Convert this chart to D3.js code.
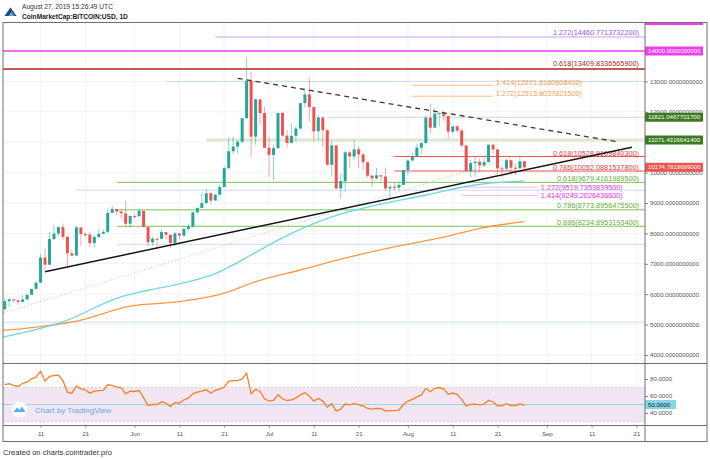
<!DOCTYPE html>
<html>
<head>
<meta charset="utf-8">
<script src="https://cdn.jsdelivr.net/npm/d3@7"></script>
<style>
  body { margin: 0; background: #fff; }
  svg text { font-family: "Liberation Sans", Arial, sans-serif; }
</style>
</head>
<body>
<div id="chart"></div>
<script>
// daily candles, first one on 2019-05-03
const firstDay = "2019-05-03";
const opens = [5505,5769,5831,5795,5747,5829,5982,6175,6379,7204,6972,7815,7995,8206,7885,7343,7271,8197,7978,7963,7680,7881,7987,8052,8674,8805,8719,8659,8319,8574,
  8564,8742,8209,7707,7824,7822,8043,7954,7688,8000,7927,8145,8230,8693,8838,8994,9320,9081,9273,9527,10145,10702,10856,11011,11790,13017,11183,12407,11960,10818,
  10583,10801,11961,11215,10978,11208,11450,12285,12573,12157,11358,11815,11393,10256,10895,9478,9720,10666,10530,10767,10599,10343,9900,9811,9911,9871,9478,9532,9507,9595,
  10085,10399,10518,10821,10970,11805,11479,11942,11966,11863,11346,11523,11383,10895,10052,10312,10360,10236,10345,10917,10764,10138,10131,10408,10160,10139,10371];
const highs = [5865,5886,5833,5811,5981,6013,6183,6434,7333,7503,8047,8268,8216,8320,7929,7446,8262,8197,8032,8034,7944,8140,8133,8810,8908,8807,8755,9074,8587,8625,
  8802,8743,8210,7901,7871,8127,8045,7955,8031,8006,8223,8311,8710,8859,9335,9474,9344,9299,9594,10210,11157,11184,11065,11790,13797,13311,12445,12408,12178,11158,
  10912,11968,12006,11392,11620,11541,12311,12707,13130,12158,11906,11842,11452,11053,10898,9963,10736,10716,11079,10849,10655,10343,9916,10154,9916,10167,9591,9680,9715,10085,
  10446,10657,10946,11009,11895,12273,12098,11979,12024,11871,11523,11528,11429,10896,10420,10525,10455,10487,10924,10947,10765,10222,10443,10408,10304,10512,10382];
const lows = [5490,5581,5734,5645,5747,5800,5982,6135,6379,6793,6953,7778,7900,7776,6915,7251,7268,7591,7862,7559,7533,7829,7981,8003,8668,8587,8469,8233,8172,8481,
  8549,8204,7564,7590,7469,7791,7793,7523,7583,7803,7894,8089,8183,8631,8838,8994,8962,9078,9232,9527,10107,10608,10620,10999,11755,10491,10914,11584,10800,9861,
  9736,10793,11176,10826,10979,11013,11401,12141,11666,11025,11069,10830,10233,9868,9448,9164,9376,10154,10415,10141,10072,9825,9529,9773,9717,9411,9113,9411,9428,9598,
  9922,10371,10503,10620,10960,11290,11479,11523,11686,11118,11283,11320,10822,10027,9855,9860,10005,10215,10341,10618,9945,9831,10086,9938,9931,10139,10128];
const closes = [5769,5831,5795,5747,5829,5982,6175,6379,7204,6972,7815,7995,8206,7885,7343,7271,8197,7978,7963,7680,7881,7987,8052,8674,8805,8719,8659,8319,8574,8564,
  8742,8209,7707,7824,7822,8043,7954,7688,8000,7927,8145,8230,8693,8838,8994,9320,9081,9273,9527,10145,10702,10856,11011,11790,13017,11183,12407,11960,10818,10583,
  10801,11961,11215,10978,11208,11450,12285,12573,12157,11358,11815,11393,10256,10895,9478,9720,10666,10530,10767,10599,10343,9900,9811,9911,9871,9478,9532,9507,9595,10085,
  10399,10518,10821,10970,11805,11479,11942,11966,11863,11346,11523,11383,10895,10052,10312,10360,10236,10345,10917,10764,10138,10131,10408,10160,10139,10371,10175];
const rsiValues = [73.5,74.4,72.5,71.2,75,76.2,80.2,82.1,89.2,77.4,83,84,84.5,78,64.5,63.3,71.5,68.5,67.3,63.3,65.8,66.3,66.5,73.2,72.4,70.4,69.5,62.6,65.6,65.3,
  66.5,58,48.8,50,50,53.2,51.5,47.6,52.4,51.5,55.5,57.5,62.6,64.5,65.8,67.3,63.3,66.5,68,70.4,77.4,78,78.2,80,86.8,62.6,68,65.6,56.7,53.9,
  54.7,61.4,56.7,54.7,55.5,57.5,61.4,64,60,54,57,54,47,51,42.5,44.5,50.5,49.5,51,49.8,48.2,45.3,44.6,45.5,45.2,42.4,42.9,42.7,43.5,50,
  54,56,59,61,69,65,69,70,68.5,62,63.5,62,56,48,50,50.5,49.5,50.5,55,53,48.5,48.3,51,48.8,48.6,50.6,49];

// moving averages
const maFastDates = ["2019-05-02","2019-05-17","2019-05-28","2019-06-04","2019-06-11","2019-06-19","2019-06-27","2019-07-03","2019-07-15","2019-07-26","2019-08-04","2019-08-16","2019-08-27"];
const maFastValues = [4570,5150,5865,6130,6340,6680,7290,7780,8540,8967,9230,9592,9730];
const maSlowDates = ["2019-05-02","2019-05-20","2019-05-31","2019-06-11","2019-06-22","2019-06-27","2019-07-08","2019-07-19","2019-07-30","2019-08-10","2019-08-17","2019-08-27"];
const maSlowValues = [4800,5150,5610,5755,6080,6360,6796,7224,7586,7914,8168,8385];

// drawn trend lines
const supportDates = ["2019-05-12","2019-09-20"];
const supportValues = [6740,10832];
const resistDates = ["2019-06-24","2019-09-17"];
const resistValues = [13102,11007];
const dottedDates = ["2019-05-02","2019-08-30"];
const dottedValues = [5350,10760];

// horizontal levels
const levelValues = [14460.77137322,14000,13409.83365659,13000,12871.81608084,12513.80378215,11821.04677017,11071.43166414,10528.91098403,10052.08815378,
  9679.41619895,9519.73538395,9420,9249.20264366,8773.89564755,8234.89531934,7641,5080];
const levelLabels = ["1.272(14460.7713732200)","","0.618(13409.8336565900)","","1.414(12871.8160808400)","1.272(12513.8037821500)","","",
  "0.618(10528.9109840300)","0.786(10052.0881537800)","0.618(9679.4161989500)","1.272(9519.7353839500)","","1.414(9249.2026436600)",
  "0.786(8773.8956475500)","0.886(8234.8953193400)","",""];
const levelStart = ["2019-06-19",null,null,"2019-06-08","2019-08-02","2019-08-02","2019-07-14","2019-06-17","2019-07-29","2019-07-29",
  "2019-05-28","2019-08-13","2019-05-19","2019-08-13","2019-05-28","2019-05-28","2019-05-28",null];
const levelEnd = [null,null,null,null,"2019-08-20","2019-08-20",null,null,null,null,null,"2019-08-30",null,"2019-08-30",null,null,null,null];
const levelKind = ["violet","magenta","darkred","blue","orange","orange","lightgreen","lightgreenwide","red","red",
  "green","pink","blue","pink","green","green","blue","blue"];

const priceTicks = [4000,5000,6000,7000,8000,9000,10000,12000,13000];
const priceBoxes = [15000,14000,11821.0467701700,11071.4316641400,10174.7819699000];
const priceBoxText = ["","14000.0000000000","11821.0467701700","11071.4316641400","10174.7819699000"];
const priceBoxKind = ["magenta","magenta","darkgreen","darkgreen","red"];
const rsiTicks = [40,60,80];
const timeTicks = ["2019-05-11","2019-05-21","2019-06-01","2019-06-11","2019-06-21","2019-07-01","2019-07-11","2019-07-21","2019-08-01","2019-08-11","2019-08-21","2019-09-01","2019-09-11","2019-09-21"];
const timeLabels = ["11","21","Jun","11","21","Jul","11","21","Aug","11","21","Sep","11","21"];

// styles
const kindStyle = {
  violet: {stroke: "#c9a3f3", width: 1, text: "#9d55ec", anchor: "end", dy: -1.5},
  magenta: {stroke: "#f03cf0", width: 1.6},
  darkred: {stroke: "#b3261e", width: 1.6, text: "#a82a22", anchor: "end", dy: -2.5},
  blue: {stroke: "#c9dcf6", width: 1},
  orange: {stroke: "#f9bd85", width: 1, text: "#f5a04a", anchor: "start", dy: 0},
  lightgreen: {stroke: "#c9ddbf", width: 1},
  lightgreenwide: {stroke: "#dbe9d4", width: 3},
  red: {stroke: "#ef5350", width: 1, text: "#e0423f", anchor: "end", dy: -1},
  green: {stroke: "#7fc250", width: 1, text: "#6aac3f", anchor: "end", dy: -1.5},
  pink: {stroke: "#f6b8ee", width: 1, text: "#ee1fee", anchor: "start", dy: 2.5}
};
const boxFill = {magenta: "#f23cf2", darkgreen: "#3b7a20", red: "#ef5350"};
const upColor = "#26a69a", downColor = "#ef5350";

const W = 710, H = 459;
const L = 3, R = 645, PT = 22.5, PB = 363.5, RB = 425.5, AB = 441.5, OR = 707;
const parse = d3.utcParse("%Y-%m-%d");

const candles = closes.map((c, i) => ({
  date: d3.utcDay.offset(parse(firstDay), i),
  o: opens[i], h: highs[i], l: lows[i], c: c, rsi: rsiValues[i]
}));

const svg = d3.select("#chart").append("svg")
  .attr("width", W).attr("height", H)
  .style("display", "block");
svg.append("rect").attr("width", W).attr("height", H).attr("fill", "#fff");

const x = d3.scaleUtc()
  .domain([parse("2019-05-03"), parse("2019-08-27")])
  .range([4.7, 524.4]);
const y = d3.scaleLinear().domain([4000, 14000]).range([355, 51]);
const yr = d3.scaleLinear().domain([40, 80]).range([413, 379]);

const defs = svg.append("defs");
defs.append("clipPath").attr("id", "clipPrice").append("rect")
  .attr("x", L).attr("y", PT).attr("width", R - L).attr("height", PB - PT);
defs.append("clipPath").attr("id", "clipRsi").append("rect")
  .attr("x", L).attr("y", PB).attr("width", R - L).attr("height", RB - PB);
defs.append("clipPath").attr("id", "clipAxis").append("rect")
  .attr("x", R).attr("y", PT).attr("width", OR - R).attr("height", PB - PT);

// grid
const grid = svg.append("g");
grid.selectAll(".vg").data(timeTicks).enter().append("line")
  .attr("x1", d => x(parse(d))).attr("x2", d => x(parse(d)))
  .attr("y1", PT).attr("y2", RB)
  .attr("stroke", "#f1f3f7").attr("stroke-width", 1);
grid.selectAll(".hg").data([4000,5000,6000,7000,8000,9000,10000,11000,12000,13000,14000]).enter().append("line")
  .attr("x1", L).attr("x2", R).attr("y1", d => y(d)).attr("y2", d => y(d))
  .attr("stroke", "#f1f3f7").attr("stroke-width", 1);

// price pane
const price = svg.append("g").attr("clip-path", "url(#clipPrice)");

levelValues.forEach((v, i) => {
  const st = kindStyle[levelKind[i]];
  const x1 = levelStart[i] ? x(parse(levelStart[i])) : L;
  const x2 = levelEnd[i] ? x(parse(levelEnd[i])) : R;
  price.append("line")
    .attr("x1", x1).attr("x2", x2).attr("y1", y(v)).attr("y2", y(v))
    .attr("stroke", st.stroke).attr("stroke-width", st.width);
  if (levelLabels[i]) {
    price.append("text")
      .attr("x", st.anchor === "end" ? 639 : x2 + 3)
      .attr("y", y(v) + st.dy)
      .attr("text-anchor", st.anchor)
      .attr("font-size", 7.3)
      .attr("fill", st.text)
      .text(levelLabels[i]);
  }
});

const lineGen = d3.line().x(d => x(d.date)).y(d => y(d.value)).curve(d3.curveMonotoneX);
const toPts = (dates, values) => dates.map((d, i) => ({date: parse(d), value: values[i]}));

price.append("path").datum(toPts(dottedDates, dottedValues))
  .attr("d", d3.line().x(d => x(d.date)).y(d => y(d.value)))
  .attr("fill", "none").attr("stroke", "#c4c4c4").attr("stroke-width", 0.8)
  .attr("stroke-dasharray", "1.5,2");

price.append("path").datum(toPts(maSlowDates, maSlowValues))
  .attr("d", lineGen).attr("fill", "none")
  .attr("stroke", "#fb9843").attr("stroke-width", 1.3);
price.append("path").datum(toPts(maFastDates, maFastValues))
  .attr("d", lineGen).attr("fill", "none")
  .attr("stroke", "#6fd6e6").attr("stroke-width", 1.3);

// candles
const bw = 3;
const cg = price.append("g");
cg.selectAll(".wick").data(candles).enter().append("line")
  .attr("x1", d => x(d.date)).attr("x2", d => x(d.date))
  .attr("y1", d => y(d.h)).attr("y2", d => y(d.l))
  .attr("stroke", d => d.c >= d.o ? upColor : downColor)
  .attr("stroke-opacity", 0.5).attr("stroke-width", 1);
cg.selectAll(".body").data(candles).enter().append("rect")
  .attr("x", d => x(d.date) - bw / 2)
  .attr("y", d => y(Math.max(d.o, d.c)))
  .attr("width", bw)
  .attr("height", d => Math.max(1, Math.abs(y(d.o) - y(d.c))))
  .attr("fill", d => d.c >= d.o ? upColor : downColor);

price.append("path").datum(toPts(supportDates, supportValues))
  .attr("d", d3.line().x(d => x(d.date)).y(d => y(d.value)))
  .attr("fill", "none").attr("stroke", "#151515").attr("stroke-width", 1.5);
price.append("path").datum(toPts(resistDates, resistValues))
  .attr("d", d3.line().x(d => x(d.date)).y(d => y(d.value)))
  .attr("fill", "none").attr("stroke", "#3a3a3a").attr("stroke-width", 1.3)
  .attr("stroke-dasharray", "5,4");

// RSI pane
const rsi = svg.append("g").attr("clip-path", "url(#clipRsi)");
rsi.append("rect").attr("x", L).attr("width", R - L)
  .attr("y", yr(70)).attr("height", yr(30) - yr(70))
  .attr("fill", "#f2e6f3");
[70, 30].forEach(v => rsi.append("line")
  .attr("x1", L).attr("x2", R).attr("y1", yr(v)).attr("y2", yr(v))
  .attr("stroke", "#c9c3cc").attr("stroke-width", 0.8).attr("stroke-dasharray", "2,2"));
rsi.append("line").attr("x1", L).attr("x2", R).attr("y1", yr(50)).attr("y2", yr(50))
  .attr("stroke", "#9fd3ea").attr("stroke-width", 1);
rsi.append("path").datum(candles)
  .attr("d", d3.line().x(d => x(d.date)).y(d => yr(d.rsi)))
  .attr("fill", "none").attr("stroke", "#f58025").attr("stroke-width", 1.3);

// TradingView badge
const badge = svg.append("g");
badge.append("circle").attr("cx", 19.5).attr("cy", 409.5).attr("r", 8)
  .attr("fill", "#fff").attr("stroke", "#e6e6e6").attr("stroke-width", 0.6);
badge.append("path")
  .attr("d", "M13.5,412 L17,407.5 L19.5,410 L22,406.5 L25.5,412 Z")
  .attr("fill", "#56aee6");
badge.append("text").attr("x", 35).attr("y", 412.5)
  .attr("font-size", 8).attr("fill", "#5caee6").text("Chart by TradingView");

// right price axis
const axisR = svg.append("g").attr("transform", `translate(${R},0)`)
  .call(d3.axisRight(y).tickValues(priceTicks).tickSize(3).tickPadding(2)
    .tickFormat(d => d.toFixed(10)));
axisR.select(".domain").remove();
axisR.selectAll(".tick line").attr("stroke", "#888");
axisR.selectAll("text").attr("font-size", 6.1).attr("fill", "#555")
  .attr("font-family", "'Liberation Sans', Arial, sans-serif");

const boxes = svg.append("g").attr("clip-path", "url(#clipAxis)");
priceBoxes.forEach((v, i) => {
  boxes.append("rect").attr("x", R).attr("y", y(v) - 4.5)
    .attr("width", 58).attr("height", 9).attr("fill", boxFill[priceBoxKind[i]]);
  boxes.append("text").attr("x", R + 3).attr("y", y(v) + 2.2)
    .attr("font-size", 6.1).attr("fill", "#fff").text(priceBoxText[i]);
});

// RSI axis
const axisRsi = svg.append("g").attr("transform", `translate(${R},0)`)
  .call(d3.axisRight(yr).tickValues(rsiTicks).tickSize(3).tickPadding(2)
    .tickFormat(d => d.toFixed(4)));
axisRsi.select(".domain").remove();
axisRsi.selectAll(".tick line").attr("stroke", "#888");
axisRsi.selectAll("text").attr("font-size", 6.1).attr("fill", "#555")
  .attr("font-family", "'Liberation Sans', Arial, sans-serif");
svg.append("rect").attr("x", R).attr("y", yr(50) - 4.5).attr("width", 31).attr("height", 9)
  .attr("fill", "#86d6e8");
svg.append("text").attr("x", R + 3).attr("y", yr(50) + 2.2)
  .attr("font-size", 6.1).attr("fill", "#1a1a1a").text("50.0000");

// time axis
const axisB = svg.append("g").attr("transform", `translate(0,${RB})`)
  .call(d3.axisBottom(x).tickValues(timeTicks.map(parse)).tickSize(2.5).tickPadding(4)
    .tickFormat((d, i) => timeLabels[i]));
axisB.select(".domain").remove();
axisB.selectAll(".tick line").attr("stroke", "#999");
axisB.selectAll("text").attr("font-size", 6.1).attr("fill", "#555")
  .attr("font-family", "'Liberation Sans', Arial, sans-serif");

// frame
const frame = svg.append("g").attr("fill", "none").attr("stroke", "#6b6f78").attr("stroke-width", 1);
frame.append("rect").attr("x", L).attr("y", PT).attr("width", OR - L).attr("height", AB - PT);
frame.append("line").attr("x1", R).attr("x2", R).attr("y1", PT).attr("y2", AB);
frame.append("line").attr("x1", L).attr("x2", OR).attr("y1", PB).attr("y2", PB);
frame.append("line").attr("x1", L).attr("x2", OR).attr("y1", RB).attr("y2", RB);

// header
svg.append("path").attr("d", "M4.5,16 L10.5,7.5 L16.5,16 Z").attr("fill", "#1f4778");
svg.append("path").attr("d", "M8.5,16 L11.5,11.5 L14.5,16 Z").attr("fill", "#5aa6dc");
svg.append("text").attr("x", 22).attr("y", 8.5).attr("font-size", 6.6).attr("fill", "#333")
  .text("August 27, 2019 15:26:49 UTC");
svg.append("text").attr("x", 22).attr("y", 18.5).attr("font-size", 6.6).attr("font-weight", "bold")
  .attr("fill", "#222").text("CoinMarketCap:BITCOIN:USD, 1D");

// footer
svg.append("text").attr("x", 3).attr("y", 455).attr("font-size", 7.6).attr("fill", "#333")
  .text("Created on charts.cointrader.pro");
</script>
</body>
</html>
